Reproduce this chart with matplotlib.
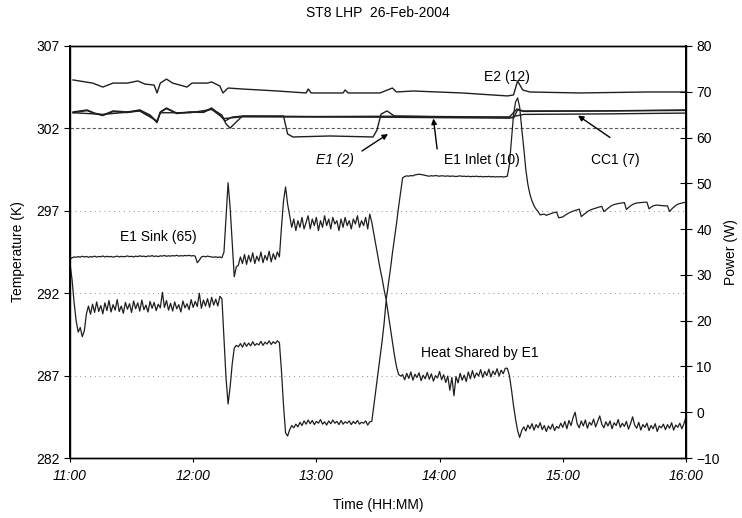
import matplotlib
matplotlib.use("Agg")
import matplotlib.pyplot as plt
import numpy as np

plt.rcParams['font.family'] = ['Liberation Sans', 'DejaVu Sans']
plt.rcParams['font.size'] = 10

# x axis: minutes after 11:00
time_ticks = [0, 60, 120, 180, 240, 300]
time_labels = ['11:00', '12:00', '13:00', '14:00', '15:00', '16:00']
temp_ticks = [282, 287, 292, 297, 302, 307]
power_ticks = [-10, 0, 10, 20, 30, 40, 50, 60, 70, 80]

# E2 (12) temperature, K
e2_t = [1.5, 11, 16, 21, 28, 33, 36.5, 41, 42.4, 44,
        47, 50, 57, 59.4, 67, 69, 73, 74.5, 77, 84,
        101, 115, 116, 117.5, 133, 134, 135.5, 151, 157, 159,
        167, 191, 213, 216, 218, 220.5, 224, 248, 281, 300]
e2_k = [304.94, 304.75, 304.51, 304.75, 304.75, 304.88, 304.69, 304.63, 304.15, 304.75,
        304.99, 304.75, 304.51, 304.75, 304.75, 304.82, 304.57, 304.15, 304.45, 304.39,
        304.27, 304.15, 304.39, 304.15, 304.15, 304.33, 304.15, 304.15, 304.45, 304.21,
        304.27, 304.15, 303.97, 304.03, 304.88, 304.33, 304.21, 304.15, 304.21, 304.21]

# E1 (2)
e1_t = [1.5, 8.3, 12, 16, 21, 28, 34, 39, 42.4, 44,
        47, 52, 58.5, 65, 69, 73, 75.5, 79, 84, 104,
        106, 108.6, 126.6, 147.6, 149.5, 151.5, 154.4, 158, 185, 214,
        217.7, 220.6, 258, 300]
e1_k = [303.0, 303.12, 302.93, 302.81, 303.06, 303.0, 303.12, 302.81, 302.39, 303.0,
        303.24, 302.93, 303.0, 303.0, 303.24, 302.81, 302.45, 302.69, 302.75, 302.75,
        301.66, 301.48, 301.54, 301.48, 301.9, 302.87, 303.06, 302.75, 302.69, 302.69,
        303.18, 303.06, 303.06, 303.12]

# E1 Inlet (10)
e1in_t = [1.5, 8.3, 12, 16, 21, 28, 34, 39, 42.4, 44,
          47, 52, 58.5, 65, 69, 74, 76, 78, 81, 84,
          120, 160, 200, 214, 216, 218, 221, 260, 300]
e1in_k = [302.95, 303.08, 302.9, 302.78, 303.02, 302.96, 303.1, 302.78, 302.35, 302.97,
          303.2, 302.9, 302.98, 302.97, 303.2, 302.81, 302.27, 302.02, 302.39, 302.75,
          302.72, 302.74, 302.7, 302.68, 302.63, 303.12, 303.03, 303.06, 303.09]

# CC1 (7)
cc1_t = [1.5, 16, 34, 42.4, 44, 58.5, 69, 75, 84, 150, 214, 217, 221, 260, 300]
cc1_k = [302.95, 302.85, 303.05, 302.45, 302.95, 302.95, 303.15, 302.6, 302.7, 302.68,
         302.62, 302.75, 302.85, 302.88, 302.93]

# E1 sink (65), K, one value per minute 11:00..16:00
sink_k = [
    294.05, 294.15, 294.20, 294.18, 294.22, 294.19, 294.24, 294.20, 294.23, 294.18,
    294.22, 294.20, 294.25, 294.19, 294.23, 294.21, 294.26, 294.20, 294.24, 294.21,
    294.23, 294.19, 294.22, 294.25, 294.20, 294.24, 294.21, 294.23, 294.26, 294.22,
    294.24, 294.20, 294.25, 294.22, 294.27, 294.23, 294.25, 294.21, 294.26, 294.24,
    294.28, 294.23, 294.26, 294.22, 294.27, 294.25, 294.29, 294.24, 294.27, 294.25,
    294.28, 294.26, 294.30, 294.25, 294.28, 294.26, 294.29, 294.27, 294.30, 294.26,
    294.28, 294.25, 293.85, 294.00, 294.20, 294.24, 294.21, 294.25, 294.22, 294.20,
    294.18, 294.21, 294.17, 294.20, 294.15, 294.50, 296.60, 298.70, 297.20, 295.10,
    293.00, 293.60, 293.70, 294.20, 293.80, 294.35, 293.75, 294.30, 293.90, 294.45,
    293.80, 294.25, 293.95, 294.50, 293.85, 294.30, 294.00, 294.55, 293.90, 294.40,
    294.05, 294.50, 294.20, 296.00, 297.60, 298.45, 297.40, 296.70, 296.00, 296.50,
    295.80, 296.40, 296.00, 296.60, 295.90, 296.30, 296.70, 295.90, 296.50, 296.10,
    296.60, 295.80, 296.40, 296.00, 296.70, 296.10, 296.50, 295.90, 296.60, 296.20,
    296.40, 295.80, 296.50, 296.00, 296.60, 296.10, 296.40, 295.90, 296.50, 296.20,
    296.70, 296.00, 296.40, 296.10, 296.60, 295.90, 296.80, 296.30, 295.60, 294.90,
    294.20, 293.50, 292.90, 292.20, 291.60, 292.50, 293.40, 294.40, 295.30, 296.20,
    297.20, 298.10, 299.00, 299.08, 299.12, 299.10, 299.14, 299.12, 299.18, 299.20,
    299.22, 299.20, 299.18, 299.15, 299.12, 299.10, 299.13, 299.11, 299.14, 299.12,
    299.10, 299.13, 299.11, 299.10, 299.12, 299.09, 299.11, 299.10, 299.08, 299.10,
    299.12, 299.09, 299.10, 299.08, 299.10, 299.07, 299.09, 299.08, 299.10, 299.07,
    299.09, 299.06, 299.08, 299.07, 299.09, 299.06, 299.08, 299.05, 299.07, 299.06,
    299.08, 299.05, 299.07, 299.10, 299.80, 301.30, 302.80, 303.60, 303.85, 303.30,
    302.00, 300.80, 299.50, 298.60, 298.00, 297.60, 297.30, 297.10, 296.95, 296.75,
    296.78, 296.80, 296.72, 296.78, 296.82, 296.86, 296.90, 296.92, 296.58, 296.60,
    296.63, 296.72, 296.80, 296.87, 296.93, 296.98, 297.02, 297.06, 297.10, 296.65,
    296.75, 296.85, 296.95, 297.02, 297.08, 297.12, 297.16, 297.20, 297.24, 297.27,
    296.95, 297.05, 297.15, 297.25, 297.33, 297.38, 297.41, 297.44, 297.46, 297.48,
    297.50, 297.08, 297.20, 297.30, 297.38, 297.44, 297.47, 297.49, 297.50, 297.51,
    297.52, 297.52, 297.12, 297.22, 297.30, 297.33, 297.35, 297.33, 297.32, 297.31,
    297.30, 297.30, 296.95, 297.10, 297.22, 297.32, 297.40, 297.44, 297.47, 297.50,
    297.53]

# heat shared by E1, W, one value per minute 11:00..16:00
heat_w = [
    32.5, 29.0, 24.0, 20.0, 17.5, 18.5, 16.5, 17.8, 21.5, 23.2,
    21.4, 23.6, 21.8, 24.1, 22.0, 23.3, 21.5, 23.9, 22.2, 24.4,
    21.9, 23.5, 22.3, 24.6, 22.0, 23.2, 21.6, 24.0, 22.5, 23.7,
    21.8, 24.3, 22.6, 23.9, 22.1, 24.5, 22.4, 23.4, 21.9, 24.2,
    22.7, 24.0, 22.2, 23.6, 22.8, 26.2, 22.9, 24.4, 22.3, 23.8,
    22.1, 24.1, 22.6, 23.5, 21.9, 24.3, 22.8, 23.7, 22.4, 24.6,
    22.9, 24.2, 23.1, 26.0, 22.7, 24.5, 23.2, 24.8, 22.9, 25.1,
    23.4, 24.7, 23.2, 25.3, 24.8, 16.0, 7.5, 1.8, 5.5, 10.5,
    14.0, 14.6, 14.3, 15.0, 14.2, 15.2, 14.4, 15.1, 14.5, 15.4,
    14.6, 15.0, 14.7, 15.5, 14.6, 15.3, 14.9, 15.6, 14.8, 15.4,
    15.0, 15.6, 15.2, 9.0, 1.5, -4.5, -5.2, -3.8, -2.9, -3.4,
    -2.6, -3.2, -2.2, -2.9, -1.9, -2.6, -1.7, -2.5, -1.8, -2.7,
    -2.0, -2.4, -1.6, -2.6, -2.1, -2.8, -1.9, -2.5, -1.7, -2.4,
    -2.0, -2.7, -1.8, -2.6, -2.1, -2.4, -1.9, -2.7, -2.0, -2.5,
    -1.8, -2.6, -2.2, -2.4, -1.9, -2.8, -2.1, -2.0, 1.5, 5.0,
    8.5, 12.0, 15.5, 19.5, 24.5, 21.5, 18.5, 15.5, 12.5, 10.0,
    8.3, 7.9, 8.2, 7.1, 8.5, 7.4, 8.8, 7.0, 8.3, 7.6,
    8.6, 6.9, 8.1, 7.3, 8.7, 7.2, 8.4, 6.8, 8.0, 7.5,
    8.9, 7.1, 8.2, 6.5, 7.9, 4.8, 7.6, 3.6, 7.8, 6.4,
    8.5, 7.0, 8.1, 6.7, 8.8, 7.3, 9.1, 7.5, 8.6, 7.9,
    9.3, 7.6, 8.9, 8.0, 9.4, 7.7, 9.0, 8.2, 9.5, 7.9,
    9.2, 8.4, 9.6, 9.6, 8.0, 5.0, 1.5, -1.5, -4.0, -5.5,
    -4.0, -3.2, -4.1, -2.8, -3.6, -2.5, -3.9, -2.7, -3.4, -2.3,
    -3.8, -2.9, -4.2, -3.0, -3.7, -2.6, -4.0, -3.1, -3.5, -2.4,
    -3.3, -2.0, -3.6, -1.8, -2.9, -1.2, 0.0, -2.5, -3.4, -1.9,
    -3.0, -1.7, -3.5, -2.2, -2.8, -1.5, -3.2, -2.0, -0.8, -2.6,
    -3.4, -2.1, -3.0, -1.9, -3.6, -2.3, -2.9, -1.6, -3.3, -2.4,
    -3.1, -2.0, -3.7, -2.5, -1.0, -2.8, -3.5, -2.2, -3.9, -2.7,
    -3.3, -2.4, -4.0, -2.9, -3.6, -2.5, -4.2, -3.0, -3.4, -2.6,
    -3.8, -2.7, -3.5, -2.3, -3.9, -2.8, -3.3, -2.4, -3.6, -2.5,
    -1.0]

minutes = np.arange(len(heat_w))
lc = '0.12'

fig = plt.figure(figsize=(7.42, 5.18), dpi=100)
ax = fig.add_axes([0.0943, 0.1158, 0.8302, 0.7954])
ax2 = ax.twinx()

ax.plot(e2_t, e2_k, color=lc, lw=1.0)
ax.plot(cc1_t, cc1_k, color=lc, lw=1.0)
ax.plot(e1in_t, e1in_k, color=lc, lw=1.0)
ax.plot(e1_t, e1_k, color=lc, lw=1.0)
ax.plot(np.arange(len(sink_k)), sink_k, color=lc, lw=0.9)
ax2.plot(minutes, heat_w, color=lc, lw=0.9)

ax.set_xlim(0, 300)
ax.set_ylim(282, 307)
ax2.set_ylim(-10, 80)
ax.set_xticks(time_ticks)
ax.set_xticklabels(time_labels, style='italic')
ax.set_yticks(temp_ticks)
ax2.set_yticks(power_ticks)

# dotted horizontal grid, the 302 K line shows up darker
ax.grid(axis='y', linestyle=(0, (1, 4)), color='0.55', lw=0.7)
for val, gl in zip(temp_ticks, ax.get_ygridlines()):
    if val == 302:
        gl.set_linestyle((0, (3, 2)))
        gl.set_color('0.35')
        gl.set_linewidth(0.8)

ax.tick_params(axis='y', direction='out', length=4, labelsize=10)
ax.tick_params(axis='x', direction='out', length=3, labelsize=10, pad=5)
ax2.tick_params(axis='y', direction='inout', length=8, labelsize=10)
for a in (ax, ax2):
    for s in a.spines.values():
        s.set_color('k')
        s.set_linewidth(1.0)
ax2.spines['left'].set_linewidth(1.4)
ax2.spines['right'].set_linewidth(1.4)

ax.set_xlabel('Time (HH:MM)', fontsize=10, labelpad=11)
ax.set_ylabel('Temperature (K)', fontsize=10, labelpad=8)
ax2.set_ylabel('Power (W)', fontsize=10, labelpad=3)
ax.set_title('ST8 LHP  26-Feb-2004', fontsize=10, pad=21)

arr = dict(arrowstyle='-|>', color='k', lw=1.0, mutation_scale=8, shrinkA=0, shrinkB=0)
ax.text(213, 305.12, 'E2 (12)', ha='center', va='center')
ax.text(129, 300.08, 'E1 (2)', ha='center', va='center', style='italic')
ax.annotate('', xy=(154.9, 301.66), xytext=(142.2, 300.63), arrowprops=arr)
ax.text(200.7, 300.08, 'E1 Inlet (10)', ha='center', va='center')
ax.annotate('', xy=(177.0, 302.6), xytext=(178.8, 300.75), arrowprops=arr)
ax.text(265.5, 300.08, 'CC1 (7)', ha='center', va='center')
ax.annotate('', xy=(247.4, 302.78), xytext=(263.0, 301.45), arrowprops=arr)
ax.text(42.9, 295.41, 'E1 Sink (65)', ha='center', va='center')
ax.text(199.7, 288.37, 'Heat Shared by E1', ha='center', va='center')

fig.savefig('out.png', dpi=100)
